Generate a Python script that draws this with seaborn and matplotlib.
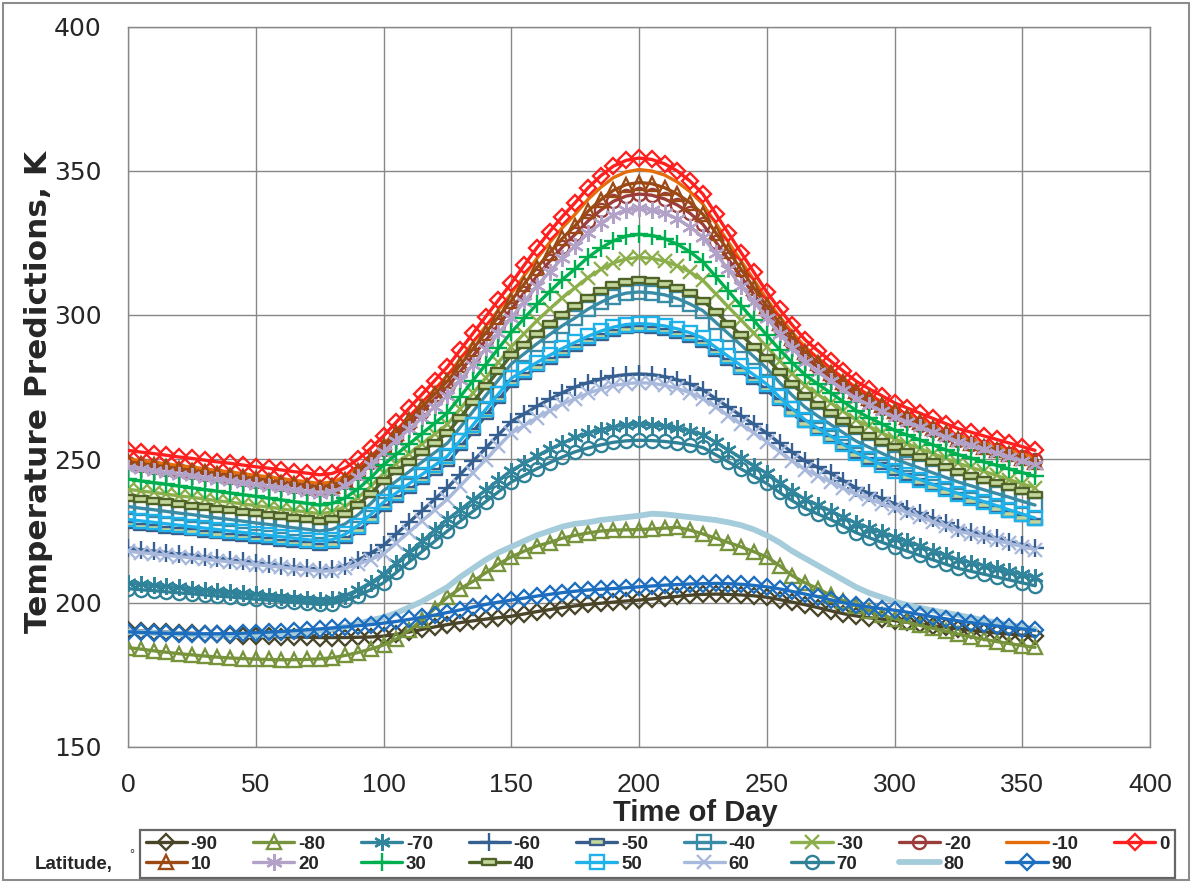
import matplotlib
matplotlib.use("Agg")
import matplotlib.pyplot as plt
from matplotlib.path import Path
from matplotlib.patches import Rectangle
from matplotlib.font_manager import FontProperties
import seaborn as sns

# Time of day (degrees of rotation), one sample every 5 units
time_of_day = list(range(0, 360, 5))

# Temperature predictions (K) per latitude
lat_m90 = [190.5, 190.3, 190.1, 189.9, 189.7, 189.5, 189.3, 189.1, 188.9, 188.7, 188.5, 188.4, 188.3, 188.2, 188.1, 188.0,
           188.0, 188.0, 188.1, 188.2, 188.5, 189.1, 189.9, 190.8, 191.7, 192.5, 193.2, 193.8, 194.4, 194.9, 195.4,
           196.2, 197.0, 197.7, 198.4, 199.0, 199.5, 199.9, 200.3, 200.7, 201.0, 201.4, 201.9, 202.3, 202.7, 203.0,
           203.1, 203.0, 202.8, 202.5, 202.0, 201.2, 200.3, 199.4, 198.4, 197.3, 196.3, 195.5, 194.9, 194.4, 193.9,
           193.3, 192.7, 192.1, 191.5, 191.0, 190.5, 190.0, 189.6, 189.2, 188.8, 188.5]
lat_m80 = [184.5, 184.0, 183.4, 182.9, 182.4, 182.0, 181.6, 181.2, 180.9, 180.7, 180.5, 180.4, 180.3, 180.3, 180.4, 180.6,
           181.0, 181.8, 182.8, 184.0, 185.4, 187.5, 190.5, 194.0, 198.0, 202.0, 205.0, 207.5, 210.5, 213.5, 216.0,
           218.0, 219.8, 221.0, 222.5, 223.5, 224.3, 225.0, 225.3, 225.4, 225.5, 225.7, 226.0, 226.3, 225.3, 224.0,
           222.5, 221.0, 219.5, 217.8, 216.0, 213.0, 209.5, 207.0, 205.0, 202.7, 200.8, 199.0, 197.3, 195.8, 194.5,
           193.3, 192.2, 191.2, 190.2, 189.2, 188.2, 187.4, 186.6, 185.9, 185.2, 184.6]
lat_m70 = [207.0, 206.6, 206.2, 205.8, 205.4, 205.0, 204.6, 204.2, 203.8, 203.4, 203.0, 202.6, 202.2, 201.8, 201.4, 201.0,
           201.4, 202.6, 204.6, 207.1, 210.0, 213.8, 217.6, 221.4, 225.2, 229.0, 232.4, 235.8, 239.2, 242.6, 246.0,
           248.5, 251.1, 253.4, 255.5, 257.5, 259.0, 260.2, 261.2, 261.8, 262.0, 261.9, 261.4, 260.7, 259.8, 258.5,
           255.8, 253.1, 250.4, 247.7, 245.0, 241.8, 238.8, 236.0, 234.0, 232.0, 229.8, 227.7, 226.1, 224.5, 223.0,
           221.4, 219.8, 218.2, 216.6, 215.0, 214.0, 213.0, 212.0, 211.0, 210.0, 209.0]
lat_m60 = [219.0, 218.5, 218.0, 217.5, 217.0, 216.5, 216.0, 215.5, 215.0, 214.5, 214.0, 213.5, 213.0, 212.5, 212.0, 211.5,
           211.8, 213.0, 214.9, 217.3, 220.0, 224.0, 228.0, 232.0, 236.0, 240.0, 244.6, 249.2, 253.8, 258.4, 263.0,
           265.6, 268.3, 270.7, 273.0, 275.0, 276.5, 277.7, 278.7, 279.3, 279.5, 279.3, 278.6, 277.5, 276.0, 274.0,
           271.0, 268.0, 265.0, 262.0, 259.0, 255.5, 252.3, 249.3, 247.1, 245.0, 242.5, 240.0, 238.1, 236.3, 234.5,
           232.8, 231.1, 229.4, 227.7, 226.0, 224.8, 223.7, 222.5, 221.3, 220.2, 219.0]
lat_m50 = [227.0, 226.5, 226.0, 225.5, 225.0, 224.5, 224.0, 223.5, 223.0, 222.5, 222.0, 221.5, 221.0, 220.5, 220.0, 219.5,
           220.0, 221.9, 224.9, 228.7, 233.0, 236.1, 239.2, 242.3, 245.4, 248.5, 254.0, 259.5, 265.0, 270.5, 276.0,
           278.8, 281.5, 284.0, 286.4, 288.5, 290.6, 292.4, 293.8, 294.7, 295.0, 294.8, 294.2, 293.2, 291.8, 290.0,
           286.8, 283.6, 280.4, 277.2, 274.0, 269.8, 265.8, 262.3, 259.6, 257.0, 254.2, 251.5, 249.4, 247.5, 245.5,
           243.8, 242.1, 240.4, 238.7, 237.0, 235.5, 234.0, 232.5, 231.0, 229.5, 228.0]
lat_m40 = [233.5, 232.9, 232.4, 231.8, 231.2, 230.7, 230.1, 229.5, 229.0, 228.4, 227.8, 227.3, 226.7, 226.1, 225.6, 225.0,
           225.6, 227.5, 230.6, 234.5, 239.0, 242.3, 245.6, 248.9, 252.2, 255.5, 261.0, 266.5, 272.0, 277.5, 283.0,
           286.5, 290.0, 293.2, 296.3, 299.0, 302.0, 304.4, 306.4, 307.6, 308.0, 307.7, 307.0, 305.7, 303.8, 301.5,
           297.5, 293.5, 289.5, 285.5, 281.5, 276.6, 272.1, 268.0, 264.9, 262.0, 259.1, 256.2, 254.1, 252.0, 250.0,
           248.4, 246.8, 245.2, 243.6, 242.0, 240.7, 239.3, 238.0, 236.7, 235.3, 234.0]
lat_m30 = [239.5, 238.9, 238.4, 237.8, 237.2, 236.7, 236.1, 235.5, 235.0, 234.4, 233.8, 233.3, 232.7, 232.1, 231.6, 231.0,
           231.6, 233.5, 236.6, 240.5, 245.0, 248.4, 251.8, 255.2, 258.6, 262.0, 267.4, 272.8, 278.2, 283.6, 289.0,
           293.5, 298.0, 302.1, 306.0, 309.5, 313.0, 315.8, 318.1, 319.5, 320.0, 319.7, 318.7, 317.1, 314.9, 312.0,
           307.4, 302.8, 298.2, 293.6, 289.0, 284.1, 279.6, 275.5, 272.4, 269.5, 266.5, 263.5, 261.3, 259.1, 257.0,
           255.3, 253.6, 251.9, 250.2, 248.5, 247.1, 245.7, 244.3, 242.8, 241.4, 240.0]
lat_m20 = [248.5, 247.9, 247.3, 246.7, 246.1, 245.5, 244.9, 244.3, 243.7, 243.1, 242.5, 241.9, 241.3, 240.7, 240.1, 239.5,
           240.1, 242.0, 245.1, 249.0, 253.5, 257.8, 262.1, 266.4, 270.7, 275.0, 280.4, 285.8, 291.2, 296.6, 302.0,
           307.7, 313.4, 318.6, 323.6, 328.0, 332.6, 336.4, 339.5, 341.3, 342.0, 341.6, 340.3, 338.2, 335.3, 331.5,
           325.4, 319.3, 313.2, 307.1, 301.0, 295.4, 290.2, 285.5, 281.9, 278.5, 275.4, 272.3, 269.9, 267.7, 265.5,
           263.7, 261.9, 260.1, 258.3, 256.5, 255.3, 254.2, 253.0, 251.8, 250.7, 249.5]
lat_m10 = [250.0, 249.4, 248.9, 248.3, 247.7, 247.2, 246.6, 246.0, 245.5, 244.9, 244.3, 243.8, 243.2, 242.6, 242.1, 241.5,
           242.0, 243.9, 246.9, 250.7, 255.0, 259.8, 264.6, 269.4, 274.2, 279.0, 284.7, 290.4, 296.1, 301.8, 307.5,
           313.6, 319.6, 325.1, 330.3, 335.0, 340.1, 344.3, 347.7, 349.7, 350.5, 350.0, 348.6, 346.2, 342.8, 338.5,
           331.9, 325.3, 318.7, 312.1, 305.5, 299.5, 294.0, 288.9, 285.1, 281.5, 278.1, 274.8, 272.3, 269.9, 267.5,
           265.6, 263.7, 261.8, 259.9, 258.0, 256.8, 255.5, 254.3, 253.0, 251.8, 250.5]
lat_0 = [253.0, 252.4, 251.9, 251.3, 250.7, 250.2, 249.6, 249.0, 248.5, 247.9, 247.3, 246.8, 246.2, 245.6, 245.1, 244.5,
         245.0, 246.9, 249.9, 253.7, 258.0, 262.8, 267.6, 272.4, 277.2, 282.0, 287.8, 293.6, 299.4, 305.2, 311.0,
         317.2, 323.3, 328.9, 334.2, 339.0, 344.1, 348.3, 351.7, 353.7, 354.5, 354.0, 352.5, 350.0, 346.5, 342.0,
         335.2, 328.4, 321.6, 314.8, 308.0, 302.0, 296.5, 291.4, 287.6, 284.0, 280.5, 277.0, 274.4, 272.0, 269.5,
         267.7, 265.9, 264.1, 262.3, 260.5, 259.3, 258.0, 256.8, 255.5, 254.3, 253.0]
lat_10 = [249.0, 248.4, 247.8, 247.2, 246.6, 246.0, 245.4, 244.8, 244.2, 243.6, 243.0, 242.4, 241.8, 241.2, 240.6, 240.0,
          240.6, 242.6, 245.8, 249.9, 254.5, 259.0, 263.5, 268.0, 272.5, 277.0, 282.6, 288.2, 293.8, 299.4, 305.0,
          310.7, 316.4, 321.6, 326.6, 331.0, 336.0, 340.0, 343.3, 345.3, 346.0, 345.6, 344.2, 342.0, 339.0, 335.0,
          328.6, 322.2, 315.8, 309.4, 303.0, 297.3, 292.0, 287.1, 283.5, 280.0, 276.8, 273.5, 271.1, 268.8, 266.5,
          264.6, 262.7, 260.8, 258.9, 257.0, 255.7, 254.3, 253.0, 251.7, 250.3, 249.0]
lat_20 = [247.0, 246.4, 245.8, 245.2, 244.6, 244.0, 243.4, 242.8, 242.2, 241.6, 241.0, 240.4, 239.8, 239.2, 238.6, 238.0,
          238.6, 240.6, 243.8, 247.9, 252.5, 256.4, 260.3, 264.2, 268.1, 272.0, 277.4, 282.8, 288.2, 293.6, 299.0,
          304.5, 310.0, 315.0, 319.8, 324.0, 328.3, 331.8, 334.7, 336.4, 337.0, 336.6, 335.4, 333.4, 330.6, 327.0,
          321.4, 315.8, 310.2, 304.6, 299.0, 293.5, 288.4, 283.8, 280.3, 277.0, 274.0, 271.0, 268.8, 266.6, 264.5,
          262.8, 261.1, 259.4, 257.7, 256.0, 254.7, 253.3, 252.0, 250.7, 249.3, 248.0]
lat_30 = [243.0, 242.4, 241.8, 241.2, 240.6, 240.0, 239.4, 238.8, 238.2, 237.6, 237.0, 236.4, 235.8, 235.2, 234.6, 234.0,
          234.6, 236.5, 239.6, 243.5, 248.0, 251.6, 255.2, 258.8, 262.4, 266.0, 271.6, 277.2, 282.8, 288.4, 294.0,
          298.8, 303.7, 308.1, 312.3, 316.0, 320.0, 323.2, 325.8, 327.4, 328.0, 327.6, 326.5, 324.6, 321.9, 318.5,
          313.4, 308.3, 303.2, 298.1, 293.0, 288.0, 283.4, 279.2, 276.0, 273.0, 269.9, 266.8, 264.4, 262.2, 260.0,
          258.3, 256.6, 254.9, 253.2, 251.5, 250.3, 249.0, 247.8, 246.5, 245.3, 244.0]
lat_40 = [236.5, 236.0, 235.4, 234.9, 234.4, 233.8, 233.3, 232.8, 232.2, 231.7, 231.2, 230.6, 230.1, 229.6, 229.0, 228.5,
          229.1, 231.0, 234.1, 238.0, 242.5, 245.8, 249.1, 252.4, 255.7, 259.0, 264.4, 269.8, 275.2, 280.6, 286.0,
          289.7, 293.5, 296.9, 300.1, 303.0, 306.0, 308.4, 310.4, 311.6, 312.0, 311.7, 310.9, 309.5, 307.5, 305.0,
          301.0, 297.0, 293.0, 289.0, 285.0, 280.3, 275.9, 271.9, 268.9, 266.0, 263.1, 260.2, 258.1, 256.0, 254.0,
          252.3, 250.6, 248.9, 247.2, 245.5, 244.2, 242.8, 241.5, 240.2, 238.8, 237.5]
lat_50 = [229.0, 228.5, 228.0, 227.5, 227.0, 226.5, 226.0, 225.5, 225.0, 224.5, 224.0, 223.5, 223.0, 222.5, 222.0, 221.5,
          222.0, 223.9, 226.9, 230.7, 235.0, 238.2, 241.4, 244.6, 247.8, 251.0, 256.4, 261.8, 267.2, 272.6, 278.0,
          280.8, 283.5, 286.0, 288.4, 290.5, 292.6, 294.4, 295.8, 296.7, 297.0, 296.8, 296.2, 295.2, 293.8, 292.0,
          288.8, 285.6, 282.4, 279.2, 276.0, 271.5, 267.4, 263.6, 260.7, 258.0, 255.1, 252.2, 250.1, 248.0, 246.0,
          244.4, 242.8, 241.2, 239.6, 238.0, 236.6, 235.2, 233.8, 232.3, 230.9, 229.5]
lat_60 = [218.0, 217.5, 217.1, 216.6, 216.1, 215.7, 215.2, 214.7, 214.3, 213.8, 213.3, 212.9, 212.4, 211.9, 211.5, 211.0,
          211.2, 212.1, 213.4, 215.1, 217.0, 220.8, 224.6, 228.4, 232.2, 236.0, 240.6, 245.2, 249.8, 254.4, 259.0,
          261.6, 264.3, 266.7, 269.0, 271.0, 272.8, 274.3, 275.5, 276.2, 276.5, 276.3, 275.6, 274.5, 273.0, 271.0,
          268.0, 265.0, 262.0, 259.0, 256.0, 252.5, 249.3, 246.3, 244.1, 242.0, 239.8, 237.7, 236.1, 234.5, 233.0,
          231.4, 229.8, 228.2, 226.6, 225.0, 223.9, 222.8, 221.8, 220.7, 219.6, 218.5]
lat_70 = [205.0, 204.6, 204.3, 203.9, 203.5, 203.2, 202.8, 202.4, 202.1, 201.7, 201.3, 201.0, 200.6, 200.2, 199.9, 199.5,
          199.8, 200.9, 202.5, 204.6, 207.0, 210.6, 214.2, 217.8, 221.4, 225.0, 228.4, 231.8, 235.2, 238.6, 242.0,
          244.3, 246.6, 248.7, 250.7, 252.5, 253.8, 254.9, 255.8, 256.3, 256.5, 256.4, 256.1, 255.6, 254.9, 254.0,
          251.5, 249.0, 246.5, 244.0, 241.5, 238.4, 235.5, 232.9, 230.9, 229.0, 226.7, 224.4, 222.7, 221.1, 219.5,
          218.0, 216.5, 215.0, 213.5, 212.0, 211.0, 210.0, 209.0, 208.0, 207.0, 206.0]
lat_80 = [190.0, 189.8, 189.6, 189.4, 189.2, 189.0, 188.9, 188.8, 188.8, 188.8, 188.9, 189.0, 189.2, 189.5, 189.9, 190.4,
          191.0, 191.8, 192.8, 194.0, 195.0, 196.5, 198.5, 200.5, 203.0, 205.5, 209.0, 212.0, 215.0, 217.5, 219.5,
          221.5, 223.5, 225.0, 226.5, 227.5, 228.0, 228.8, 229.3, 229.8, 230.3, 231.0, 230.8, 230.3, 229.8, 229.3,
          228.8, 228.0, 227.0, 225.5, 223.5, 221.0, 218.0, 215.5, 213.0, 210.5, 208.0, 205.5, 203.5, 202.0, 200.5,
          199.3, 198.3, 197.4, 196.6, 195.8, 194.9, 194.0, 193.2, 192.4, 191.6, 190.8]
lat_90 = [190.0, 189.8, 189.6, 189.5, 189.4, 189.3, 189.3, 189.3, 189.4, 189.5, 189.7, 189.9, 190.1, 190.4, 190.7, 191.0,
          191.3, 191.7, 192.1, 192.5, 193.0, 193.6, 194.3, 195.0, 195.8, 196.7, 197.6, 198.6, 199.5, 200.3, 201.0,
          201.7, 202.4, 203.0, 203.6, 204.1, 204.5, 204.8, 205.0, 205.3, 205.6, 205.9, 206.2, 206.4, 206.6, 206.7,
          206.8, 206.7, 206.5, 206.1, 205.6, 204.9, 204.0, 203.1, 202.2, 201.1, 200.1, 199.3, 198.6, 198.0, 197.5,
          196.8, 196.0, 195.2, 194.5, 193.8, 193.2, 192.6, 192.0, 191.5, 191.0, 190.5]

latitudes = [-90, -80, -70, -60, -50, -40, -30, -20, -10, 0, 10, 20, 30, 40, 50, 60, 70, 80, 90]
temperatures = [lat_m90, lat_m80, lat_m70, lat_m60, lat_m50, lat_m40, lat_m30, lat_m20, lat_m10, lat_0,
                lat_10, lat_20, lat_30, lat_40, lat_50, lat_60, lat_70, lat_80, lat_90]

# Marker shapes
DASH = Path([(-1, -0.4), (1, -0.4), (1, 0.4), (-1, 0.4), (-1, -0.4)],
            [Path.MOVETO, Path.LINETO, Path.LINETO, Path.LINETO, Path.CLOSEPOLY])
STAR = (6, 2, 0)

series_style = {
    -90: dict(color="#4A4528", marker="D", ms=8.5, mfc="none"),
    -80: dict(color="#77933C", marker="^", ms=10, mfc="none"),
    -70: dict(color="#31859C", marker=STAR, ms=12, mfc="none"),
    -60: dict(color="#376092", marker="+", ms=13, mfc="none"),
    -50: dict(color="#385D8A", marker=DASH, ms=10, mfc="#C3D69B"),
    -40: dict(color="#3A8CA6", marker="s", ms=10, mfc="none"),
    -30: dict(color="#8CAF4C", marker="x", ms=10, mfc="none"),
    -20: dict(color="#9B3D3A", marker="o", ms=9.5, mfc="none"),
    -10: dict(color="#E46C0A", marker=None, ms=0, mfc="none"),
    0: dict(color="#FF1F1F", marker="D", ms=8.5, mfc="none"),
    10: dict(color="#9C4A15", marker="^", ms=10, mfc="none"),
    20: dict(color="#B3A2C7", marker=STAR, ms=12, mfc="none"),
    30: dict(color="#00B050", marker="+", ms=13, mfc="none"),
    40: dict(color="#4F6228", marker=DASH, ms=10, mfc="#C3D69B"),
    50: dict(color="#1FB1EA", marker="s", ms=10, mfc="none"),
    60: dict(color="#A9B9DC", marker="x", ms=10, mfc="none"),
    70: dict(color="#2F8198", marker="o", ms=9.5, mfc="none"),
    80: dict(color="#A5CCDB", marker=None, ms=0, mfc="none"),
    90: dict(color="#1E6EBF", marker="D", ms=8.5, mfc="none"),
}

W, H = 1193, 882
sns.set_style("white")
plt.rcParams["font.family"] = ["DejaVu Sans"]

NARROW = ["Liberation Sans", "DejaVu Sans"]
GRID = "#878787"

fig = plt.figure(figsize=(W / 100, H / 100), dpi=100)
ax = fig.add_axes([128 / W, 1 - 747 / H, (1150 - 128) / W, (747 - 27) / H])

for z, (lat, temps) in enumerate(zip(latitudes, temperatures)):
    st = series_style[lat]
    kws = dict(color=st["color"], linewidth=4.2 if lat == 80 else 2.4,
               markeredgecolor=st["color"], markeredgewidth=1.7,
               markerfacecolor=st["mfc"], zorder=3 + z)
    if st["marker"] is not None:
        kws.update(marker=st["marker"], markersize=st["ms"])
    sns.lineplot(x=time_of_day, y=temps, ax=ax, label=str(lat),
                 estimator=None, sort=False, **kws)

ax.set_xlim(0, 400)
ax.set_ylim(150, 400)
ax.set_xticks(range(0, 401, 50))
ax.set_yticks(range(150, 401, 50))
ax.grid(True, color=GRID, linewidth=1.0)
ax.set_axisbelow(True)
for sp in ax.spines.values():
    sp.set_color(GRID)
    sp.set_linewidth(1.0)
ax.tick_params(axis="both", direction="out", length=7, width=1.0, color=GRID)
ax.tick_params(axis="y", pad=12, labelsize=18)
ax.tick_params(axis="x", pad=12, labelsize=19)
for lab in ax.get_xticklabels():
    lab.set_family(NARROW)
ax.set_xlabel("")
ax.set_ylabel("")

fig.text(695 / W, 1 - 813 / H, "Time of Day", ha="center", va="center",
         fontsize=21, fontweight="bold", family=NARROW)
fig.text(39 / W, 1 - 392 / H, "Temperature Predictions, K", ha="center", va="center",
         rotation=90, fontsize=22.5, fontweight="bold", family=["DejaVu Sans"])

# Legend: two rows, latitudes -90..0 on top and 10..90 below
handles, labels = ax.get_legend_handles_labels()
ax.get_legend().remove()
order = []
for i in range(9):
    order += [i, i + 10]
order.append(9)
leg = fig.legend([handles[i] for i in order], [labels[i] for i in order],
                 ncol=10, loc="center", mode="expand",
                 bbox_to_anchor=(140 / W, 4 / H, 1035 / W, 48 / H),
                 prop=FontProperties(family=NARROW, weight="bold", size=13.5),
                 numpoints=1, handlelength=2.2, handletextpad=0.2,
                 borderpad=0.3, labelspacing=0.15, borderaxespad=0,
                 frameon=True, fancybox=False, edgecolor="#404040")
leg.get_frame().set_linewidth(1.6)

fig.text(35 / W, 1 - 864 / H, "Latitude,", ha="left", va="center",
         fontsize=13.5, fontweight="bold", family=NARROW)
fig.text(129 / W, 1 - 855 / H, "°", ha="left", va="center",
         fontsize=9, family=NARROW)

fig.patches.append(Rectangle((3 / W, 2 / H), (W - 7) / W, (H - 5) / H,
                             transform=fig.transFigure, fill=False,
                             edgecolor="#8C8C8C", linewidth=1.5))

fig.savefig("out.png", dpi=100)
